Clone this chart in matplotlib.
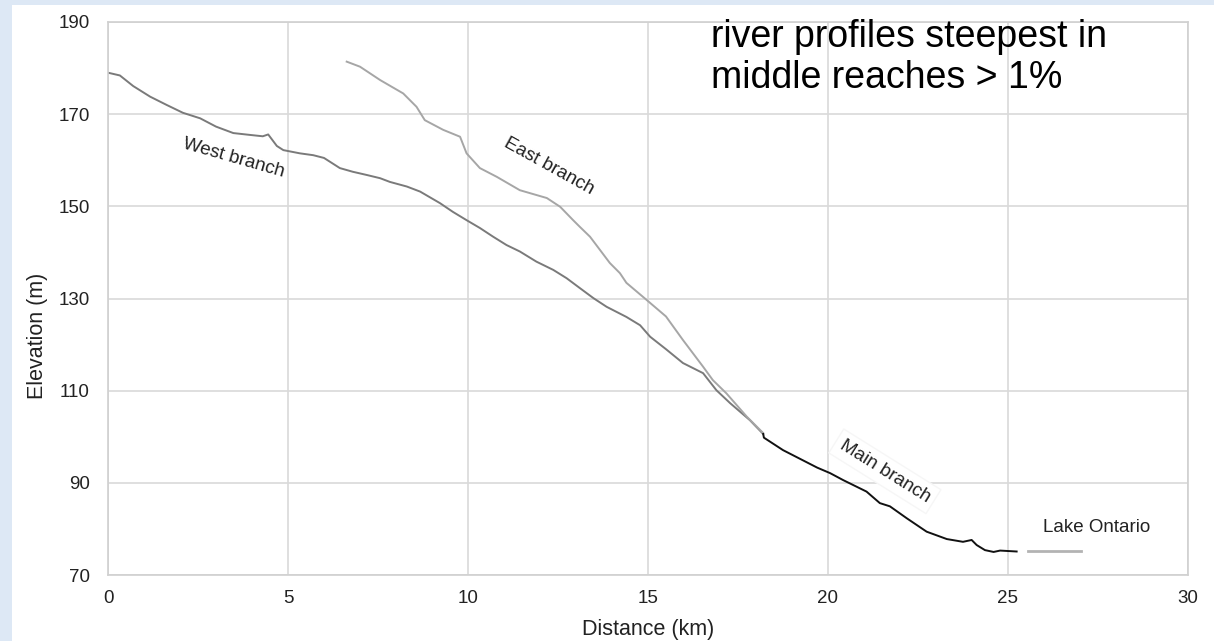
import matplotlib
matplotlib.use("Agg")
import matplotlib.pyplot as plt
from matplotlib.patches import Rectangle

plt.rcParams['font.family'] = ['Liberation Sans', 'DejaVu Sans']

# ---- data ----
west_x = [0, 0.33, 0.7, 1.17, 1.63, 2.08, 2.56, 3.0, 3.48, 3.94, 4.3, 4.45, 4.69, 4.87,
          5.33, 5.7, 6.0, 6.44, 6.8, 7.19, 7.56, 7.83, 8.3, 8.67, 9.22, 9.58, 9.96,
          10.33, 10.7, 11.07, 11.44, 11.9, 12.37, 12.74, 13.1, 13.48, 13.85, 14.4,
          14.78, 15.06, 15.5, 15.97, 16.53, 16.9, 17.28, 17.83, 18.2]
west_y = [179, 178.4, 176.1, 173.8, 172.0, 170.3, 169.1, 167.3, 165.9, 165.5, 165.2, 165.6,
          163.1, 162.2, 161.5, 161.1, 160.5, 158.3, 157.5, 156.8, 156.1, 155.3, 154.3,
          153.2, 150.7, 148.8, 147.0, 145.3, 143.4, 141.6, 140.2, 138.0, 136.2, 134.4,
          132.3, 130.1, 128.2, 126.0, 124.2, 121.7, 119.0, 116.0, 113.8, 110.1, 107.3,
          103.6, 100.6]

east_x = [6.63, 7.0, 7.56, 8.2, 8.57, 8.8, 9.31, 9.78, 9.96, 10.33, 10.8, 11.44, 12.19,
          12.56, 12.92, 13.1, 13.39, 13.67, 13.94, 14.22, 14.4, 14.96, 15.5, 15.97, 16.53,
          16.8, 17.18, 17.74, 18.2]
east_y = [181.4, 180.3, 177.4, 174.5, 171.6, 168.7, 166.6, 165.1, 161.5, 158.3, 156.4,
          153.5, 151.8, 149.9, 147.0, 145.6, 143.4, 140.5, 137.7, 135.5, 133.4, 129.7,
          126.1, 121.0, 115.2, 112.3, 109.4, 104.4, 100.8]

main_x = [18.2, 18.22, 18.75, 19.3, 19.7, 20.06, 20.42, 21.07, 21.44, 21.72, 22.19, 22.74,
          23.3, 23.75, 23.99, 24.13, 24.36, 24.6, 24.78, 25.24]
main_y = [100.6, 99.8, 97.1, 94.9, 93.3, 92.1, 90.6, 88.1, 85.6, 84.9, 82.3, 79.4,
          77.8, 77.2, 77.6, 76.5, 75.4, 75.0, 75.3, 75.1]

lake_x = [25.56, 27.03]
lake_y = [75.1, 75.1]

x_ticks = [0, 5, 10, 15, 20, 25, 30]
y_ticks = [70, 90, 110, 130, 150, 170, 190]

W, H = 1214, 641
fig = plt.figure(figsize=(W / 100, H / 100), dpi=100)
fig.patch.set_facecolor('#dde8f5')
fig.patches.append(Rectangle((12 / W, 0), 1 - 12 / W, (H - 5) / H,
                             transform=fig.transFigure, facecolor='white',
                             edgecolor='none', zorder=-10))

ax = fig.add_axes([108 / W, (H - 575) / H, 1080 / W, 553 / H])
ax.set_zorder(1)
ax.set_facecolor('white')
ax.set_xlim(0, 30)
ax.set_ylim(70, 190)
ax.set_xticks(x_ticks)
ax.set_yticks(y_ticks)
ax.grid(True, color='#d9d9d9', lw=1.2)
ax.set_axisbelow(True)
for s in ax.spines.values():
    s.set_color('#d0d0d0')
    s.set_linewidth(1.2)
ax.tick_params(length=0, labelsize=13.5, colors='#222222')
ax.tick_params(axis='y', pad=13)
ax.tick_params(axis='x', pad=11)

ax.plot(west_x, west_y, color='#7a7a7a', lw=1.4)
ax.plot(east_x, east_y, color='#a6a6a6', lw=1.4)
ax.plot(main_x, main_y, color='#111111', lw=1.4)
ax.plot(lake_x, lake_y, color='#b3b3b3', lw=2.0)

ax.set_xlabel('Distance (km)', fontsize=15.5, color='#222222')
ax.set_ylabel('Elevation (m)', fontsize=15.5, color='#222222')
ax.xaxis.set_label_coords(0.5, -0.079)
ax.yaxis.set_label_coords(-0.0556, 0.432)

ax.text(3.5, 160.5, 'West branch', rotation=-16, fontsize=13.5, ha='center',
        va='center', color='#222222')
ax.text(12.25, 158.75, 'East branch', rotation=-29, fontsize=13.5, ha='center',
        va='center', color='#222222')
ax.text(21.58, 92.5, 'Main branch', rotation=-32, fontsize=13.5, ha='center',
        va='center', color='#222222',
        bbox=dict(facecolor='white', edgecolor='#f6f6f6', boxstyle='square,pad=0.3'))
ax.text(27.47, 80.2, 'Lake Ontario', fontsize=13.5, ha='center', va='center',
        color='#222222')

fig.text(711 / W, 1 - 47 / H, 'river profiles steepest in', fontsize=27,
         ha='left', va='baseline', color='black', zorder=5)
fig.text(711 / W, 1 - 88 / H, 'middle reaches > 1%', fontsize=27,
         ha='left', va='baseline', color='black', zorder=5)

fig.savefig('out.png', dpi=100, facecolor=fig.get_facecolor())
